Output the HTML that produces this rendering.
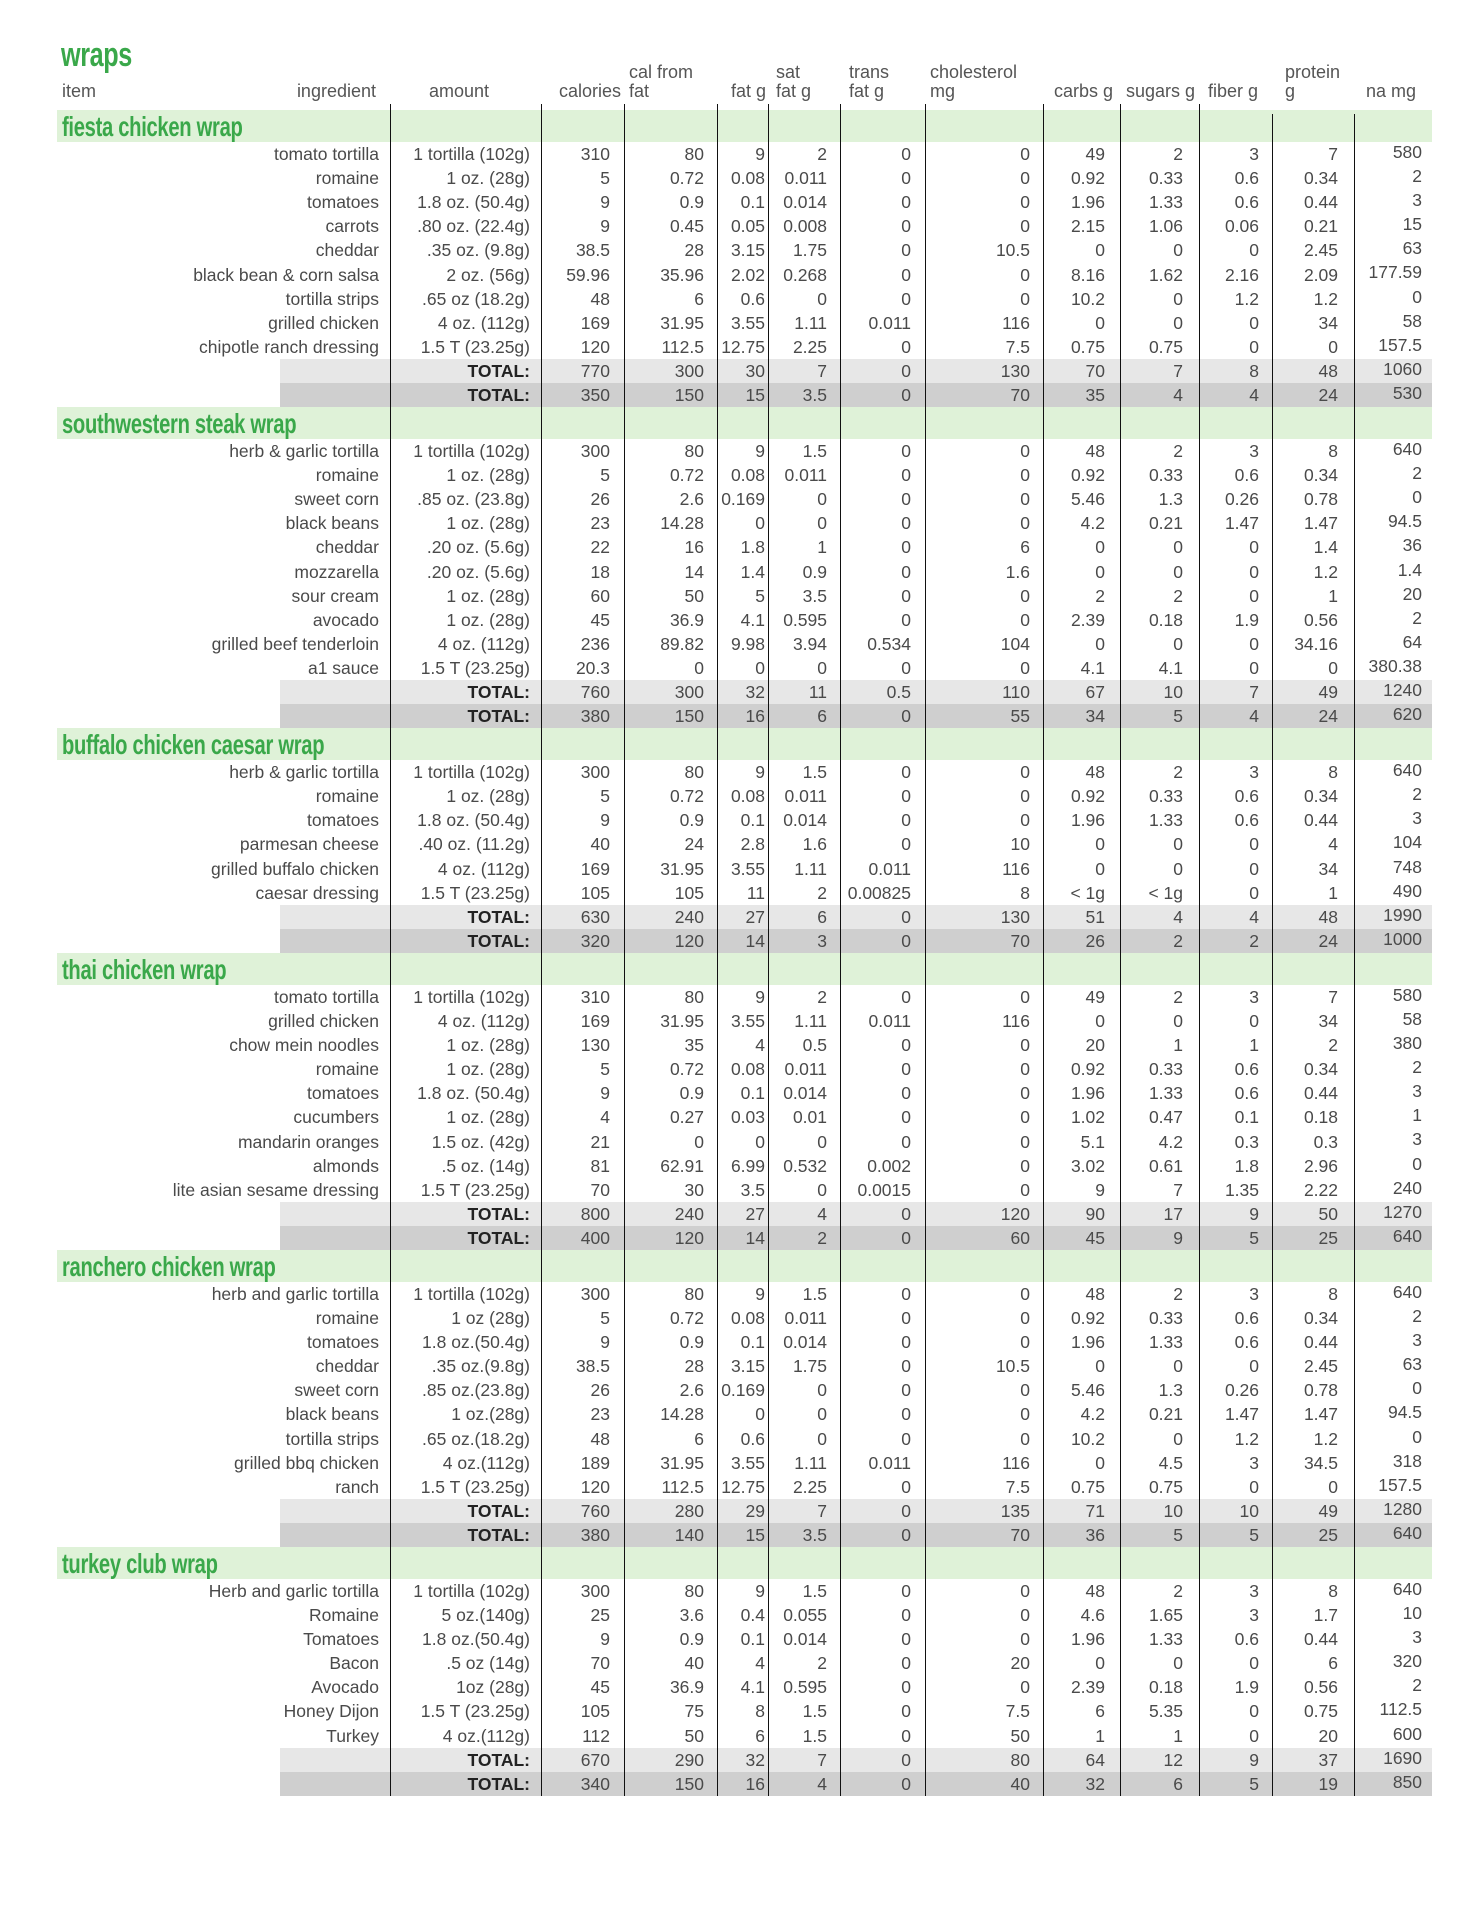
<!DOCTYPE html>
<html><head><meta charset="utf-8"><style>
body{margin:0;width:1484px;height:1920px;background:#fff;position:relative;overflow:hidden;font-family:"Liberation Sans",sans-serif;}
.h{position:absolute;font-size:18px;color:#555;line-height:19px;white-space:nowrap}
.title{position:absolute;left:61px;top:36px;font-weight:bold;font-size:34px;color:#3aa84a;letter-spacing:-0.5px;transform:scaleX(0.74);transform-origin:0 0;white-space:nowrap}
table{position:absolute;left:57px;top:110px;width:1375px;table-layout:fixed;border-collapse:collapse;border-spacing:0}
td{padding:0;height:24.1px;font-size:17.5px;color:#4a4a4a;text-align:right;white-space:nowrap;line-height:24px;overflow:visible}
tr.band td{height:32px;background:#dff2d8;text-align:left;font-weight:bold;font-size:28px;color:#3aa84a;padding-left:5px;letter-spacing:-0.4px;line-height:30px;vertical-align:bottom}
tr.band td span{display:inline-block;transform:scaleX(0.72);transform-origin:0 100%}
tr.t1 td{background:#e7e7e7}
tr.t2 td{background:#cfcfcf}
tr.t1 td:first-child,tr.t2 td:first-child{background:linear-gradient(90deg,#fff 223px,transparent 223px)}
tr.t1 td:first-child{background-color:#e7e7e7}
tr.t2 td:first-child{background-color:#cfcfcf}
tr.t1 td:nth-child(2),tr.t2 td:nth-child(2){font-weight:bold;color:#222}
td:nth-child(1){padding-right:11px}
td:nth-child(2){padding-right:11px}
td:nth-child(3){padding-right:14px}
td:nth-child(4){padding-right:13px}
td:nth-child(5){padding-right:3px}
td:nth-child(6){padding-right:13px}
td:nth-child(7){padding-right:14px}
td:nth-child(8){padding-right:13px}
td:nth-child(9){padding-right:15px}
td:nth-child(10){padding-right:16px}
td:nth-child(11){padding-right:13px}
td:nth-child(12){padding-right:16px}
td:nth-child(13){padding-right:10px;vertical-align:top;line-height:20px}
.v{position:absolute;width:1px;background:#111;top:104px;height:1692px;z-index:2}
</style></head><body>
<div class="title">wraps</div>
<div class="h" style="left:62px;top:82px">item</div>
<div class="h" style="left:280px;width:96px;text-align:right;top:82px">ingredient</div>
<div class="h" style="left:429px;top:82px">amount</div>
<div class="h" style="left:549px;width:72px;text-align:right;top:82px">calories</div>
<div class="h" style="left:629px;top:63px">cal from<br>fat</div>
<div class="h" style="left:724px;width:42px;text-align:right;top:82px">fat g</div>
<div class="h" style="left:776px;top:63px">sat<br>fat g</div>
<div class="h" style="left:849px;top:63px">trans<br>fat g</div>
<div class="h" style="left:930px;top:63px">cholesterol<br>mg</div>
<div class="h" style="left:1054px;top:82px">carbs g</div>
<div class="h" style="left:1126px;top:82px">sugars g</div>
<div class="h" style="left:1208px;top:82px">fiber g</div>
<div class="h" style="left:1285px;top:63px">protein<br>g</div>
<div class="h" style="left:1366px;top:82px">na mg</div>

<div class="v" style="left:390px"></div><div class="v" style="left:541px"></div><div class="v" style="left:624px"></div><div class="v" style="left:717px"></div><div class="v" style="left:768px"></div><div class="v" style="left:840px"></div><div class="v" style="left:925px"></div><div class="v" style="left:1043px"></div><div class="v" style="left:1120px"></div><div class="v" style="left:1199px"></div><div class="v" style="left:1272px;top:114px;height:1682px"></div><div class="v" style="left:1354px;top:114px;height:1682px"></div>

<table>
<colgroup><col style="width:333px"><col style="width:151px"><col style="width:83px"><col style="width:93px"><col style="width:51px"><col style="width:72px"><col style="width:85px"><col style="width:118px"><col style="width:77px"><col style="width:79px"><col style="width:73px"><col style="width:82px"><col style="width:78px"></colgroup>
<tr class="band"><td colspan="13"><span>fiesta chicken wrap</span></td></tr>
<tr><td>tomato tortilla<td>1 tortilla (102g)<td>310<td>80<td>9<td>2<td>0<td>0<td>49<td>2<td>3<td>7<td>580</tr>
<tr><td>romaine<td>1 oz. (28g)<td>5<td>0.72<td>0.08<td>0.011<td>0<td>0<td>0.92<td>0.33<td>0.6<td>0.34<td>2</tr>
<tr><td>tomatoes<td>1.8 oz. (50.4g)<td>9<td>0.9<td>0.1<td>0.014<td>0<td>0<td>1.96<td>1.33<td>0.6<td>0.44<td>3</tr>
<tr><td>carrots<td>.80 oz. (22.4g)<td>9<td>0.45<td>0.05<td>0.008<td>0<td>0<td>2.15<td>1.06<td>0.06<td>0.21<td>15</tr>
<tr><td>cheddar<td>.35 oz. (9.8g)<td>38.5<td>28<td>3.15<td>1.75<td>0<td>10.5<td>0<td>0<td>0<td>2.45<td>63</tr>
<tr><td>black bean &amp; corn salsa<td>2 oz. (56g)<td>59.96<td>35.96<td>2.02<td>0.268<td>0<td>0<td>8.16<td>1.62<td>2.16<td>2.09<td>177.59</tr>
<tr><td>tortilla strips<td>.65 oz (18.2g)<td>48<td>6<td>0.6<td>0<td>0<td>0<td>10.2<td>0<td>1.2<td>1.2<td>0</tr>
<tr><td>grilled chicken<td>4 oz. (112g)<td>169<td>31.95<td>3.55<td>1.11<td>0.011<td>116<td>0<td>0<td>0<td>34<td>58</tr>
<tr><td>chipotle ranch dressing<td>1.5 T (23.25g)<td>120<td>112.5<td>12.75<td>2.25<td>0<td>7.5<td>0.75<td>0.75<td>0<td>0<td>157.5</tr>
<tr class="t1"><td><td>TOTAL:<td>770<td>300<td>30<td>7<td>0<td>130<td>70<td>7<td>8<td>48<td>1060</tr>
<tr class="t2"><td><td>TOTAL:<td>350<td>150<td>15<td>3.5<td>0<td>70<td>35<td>4<td>4<td>24<td>530</tr>

<tr class="band"><td colspan="13"><span>southwestern steak wrap</span></td></tr>
<tr><td>herb &amp; garlic tortilla<td>1 tortilla (102g)<td>300<td>80<td>9<td>1.5<td>0<td>0<td>48<td>2<td>3<td>8<td>640</tr>
<tr><td>romaine<td>1 oz. (28g)<td>5<td>0.72<td>0.08<td>0.011<td>0<td>0<td>0.92<td>0.33<td>0.6<td>0.34<td>2</tr>
<tr><td>sweet corn<td>.85 oz. (23.8g)<td>26<td>2.6<td>0.169<td>0<td>0<td>0<td>5.46<td>1.3<td>0.26<td>0.78<td>0</tr>
<tr><td>black beans<td>1 oz. (28g)<td>23<td>14.28<td>0<td>0<td>0<td>0<td>4.2<td>0.21<td>1.47<td>1.47<td>94.5</tr>
<tr><td>cheddar<td>.20 oz. (5.6g)<td>22<td>16<td>1.8<td>1<td>0<td>6<td>0<td>0<td>0<td>1.4<td>36</tr>
<tr><td>mozzarella<td>.20 oz. (5.6g)<td>18<td>14<td>1.4<td>0.9<td>0<td>1.6<td>0<td>0<td>0<td>1.2<td>1.4</tr>
<tr><td>sour cream<td>1 oz. (28g)<td>60<td>50<td>5<td>3.5<td>0<td>0<td>2<td>2<td>0<td>1<td>20</tr>
<tr><td>avocado<td>1 oz. (28g)<td>45<td>36.9<td>4.1<td>0.595<td>0<td>0<td>2.39<td>0.18<td>1.9<td>0.56<td>2</tr>
<tr><td>grilled beef tenderloin<td>4 oz. (112g)<td>236<td>89.82<td>9.98<td>3.94<td>0.534<td>104<td>0<td>0<td>0<td>34.16<td>64</tr>
<tr><td>a1 sauce<td>1.5 T (23.25g)<td>20.3<td>0<td>0<td>0<td>0<td>0<td>4.1<td>4.1<td>0<td>0<td>380.38</tr>
<tr class="t1"><td><td>TOTAL:<td>760<td>300<td>32<td>11<td>0.5<td>110<td>67<td>10<td>7<td>49<td>1240</tr>
<tr class="t2"><td><td>TOTAL:<td>380<td>150<td>16<td>6<td>0<td>55<td>34<td>5<td>4<td>24<td>620</tr>

<tr class="band"><td colspan="13"><span>buffalo chicken caesar wrap</span></td></tr>
<tr><td>herb &amp; garlic tortilla<td>1 tortilla (102g)<td>300<td>80<td>9<td>1.5<td>0<td>0<td>48<td>2<td>3<td>8<td>640</tr>
<tr><td>romaine<td>1 oz. (28g)<td>5<td>0.72<td>0.08<td>0.011<td>0<td>0<td>0.92<td>0.33<td>0.6<td>0.34<td>2</tr>
<tr><td>tomatoes<td>1.8 oz. (50.4g)<td>9<td>0.9<td>0.1<td>0.014<td>0<td>0<td>1.96<td>1.33<td>0.6<td>0.44<td>3</tr>
<tr><td>parmesan cheese<td>.40 oz. (11.2g)<td>40<td>24<td>2.8<td>1.6<td>0<td>10<td>0<td>0<td>0<td>4<td>104</tr>
<tr><td>grilled buffalo chicken<td>4 oz. (112g)<td>169<td>31.95<td>3.55<td>1.11<td>0.011<td>116<td>0<td>0<td>0<td>34<td>748</tr>
<tr><td>caesar dressing<td>1.5 T (23.25g)<td>105<td>105<td>11<td>2<td>0.00825<td>8<td>&lt; 1g<td>&lt; 1g<td>0<td>1<td>490</tr>
<tr class="t1"><td><td>TOTAL:<td>630<td>240<td>27<td>6<td>0<td>130<td>51<td>4<td>4<td>48<td>1990</tr>
<tr class="t2"><td><td>TOTAL:<td>320<td>120<td>14<td>3<td>0<td>70<td>26<td>2<td>2<td>24<td>1000</tr>

<tr class="band"><td colspan="13"><span>thai chicken wrap</span></td></tr>
<tr><td>tomato tortilla<td>1 tortilla (102g)<td>310<td>80<td>9<td>2<td>0<td>0<td>49<td>2<td>3<td>7<td>580</tr>
<tr><td>grilled chicken<td>4 oz. (112g)<td>169<td>31.95<td>3.55<td>1.11<td>0.011<td>116<td>0<td>0<td>0<td>34<td>58</tr>
<tr><td>chow mein noodles<td>1 oz. (28g)<td>130<td>35<td>4<td>0.5<td>0<td>0<td>20<td>1<td>1<td>2<td>380</tr>
<tr><td>romaine<td>1 oz. (28g)<td>5<td>0.72<td>0.08<td>0.011<td>0<td>0<td>0.92<td>0.33<td>0.6<td>0.34<td>2</tr>
<tr><td>tomatoes<td>1.8 oz. (50.4g)<td>9<td>0.9<td>0.1<td>0.014<td>0<td>0<td>1.96<td>1.33<td>0.6<td>0.44<td>3</tr>
<tr><td>cucumbers<td>1 oz. (28g)<td>4<td>0.27<td>0.03<td>0.01<td>0<td>0<td>1.02<td>0.47<td>0.1<td>0.18<td>1</tr>
<tr><td>mandarin oranges<td>1.5 oz. (42g)<td>21<td>0<td>0<td>0<td>0<td>0<td>5.1<td>4.2<td>0.3<td>0.3<td>3</tr>
<tr><td>almonds<td>.5 oz. (14g)<td>81<td>62.91<td>6.99<td>0.532<td>0.002<td>0<td>3.02<td>0.61<td>1.8<td>2.96<td>0</tr>
<tr><td>lite asian sesame dressing<td>1.5 T (23.25g)<td>70<td>30<td>3.5<td>0<td>0.0015<td>0<td>9<td>7<td>1.35<td>2.22<td>240</tr>
<tr class="t1"><td><td>TOTAL:<td>800<td>240<td>27<td>4<td>0<td>120<td>90<td>17<td>9<td>50<td>1270</tr>
<tr class="t2"><td><td>TOTAL:<td>400<td>120<td>14<td>2<td>0<td>60<td>45<td>9<td>5<td>25<td>640</tr>

<tr class="band"><td colspan="13"><span>ranchero chicken wrap</span></td></tr>
<tr><td>herb and garlic tortilla<td>1 tortilla (102g)<td>300<td>80<td>9<td>1.5<td>0<td>0<td>48<td>2<td>3<td>8<td>640</tr>
<tr><td>romaine<td>1 oz (28g)<td>5<td>0.72<td>0.08<td>0.011<td>0<td>0<td>0.92<td>0.33<td>0.6<td>0.34<td>2</tr>
<tr><td>tomatoes<td>1.8 oz.(50.4g)<td>9<td>0.9<td>0.1<td>0.014<td>0<td>0<td>1.96<td>1.33<td>0.6<td>0.44<td>3</tr>
<tr><td>cheddar<td>.35 oz.(9.8g)<td>38.5<td>28<td>3.15<td>1.75<td>0<td>10.5<td>0<td>0<td>0<td>2.45<td>63</tr>
<tr><td>sweet corn<td>.85 oz.(23.8g)<td>26<td>2.6<td>0.169<td>0<td>0<td>0<td>5.46<td>1.3<td>0.26<td>0.78<td>0</tr>
<tr><td>black beans<td>1 oz.(28g)<td>23<td>14.28<td>0<td>0<td>0<td>0<td>4.2<td>0.21<td>1.47<td>1.47<td>94.5</tr>
<tr><td>tortilla strips<td>.65 oz.(18.2g)<td>48<td>6<td>0.6<td>0<td>0<td>0<td>10.2<td>0<td>1.2<td>1.2<td>0</tr>
<tr><td>grilled bbq chicken<td>4 oz.(112g)<td>189<td>31.95<td>3.55<td>1.11<td>0.011<td>116<td>0<td>4.5<td>3<td>34.5<td>318</tr>
<tr><td>ranch<td>1.5 T (23.25g)<td>120<td>112.5<td>12.75<td>2.25<td>0<td>7.5<td>0.75<td>0.75<td>0<td>0<td>157.5</tr>
<tr class="t1"><td><td>TOTAL:<td>760<td>280<td>29<td>7<td>0<td>135<td>71<td>10<td>10<td>49<td>1280</tr>
<tr class="t2"><td><td>TOTAL:<td>380<td>140<td>15<td>3.5<td>0<td>70<td>36<td>5<td>5<td>25<td>640</tr>

<tr class="band"><td colspan="13"><span>turkey club wrap</span></td></tr>
<tr><td>Herb and garlic tortilla<td>1 tortilla (102g)<td>300<td>80<td>9<td>1.5<td>0<td>0<td>48<td>2<td>3<td>8<td>640</tr>
<tr><td>Romaine<td>5 oz.(140g)<td>25<td>3.6<td>0.4<td>0.055<td>0<td>0<td>4.6<td>1.65<td>3<td>1.7<td>10</tr>
<tr><td>Tomatoes<td>1.8 oz.(50.4g)<td>9<td>0.9<td>0.1<td>0.014<td>0<td>0<td>1.96<td>1.33<td>0.6<td>0.44<td>3</tr>
<tr><td>Bacon<td>.5 oz (14g)<td>70<td>40<td>4<td>2<td>0<td>20<td>0<td>0<td>0<td>6<td>320</tr>
<tr><td>Avocado<td>1oz (28g)<td>45<td>36.9<td>4.1<td>0.595<td>0<td>0<td>2.39<td>0.18<td>1.9<td>0.56<td>2</tr>
<tr><td>Honey Dijon<td>1.5 T (23.25g)<td>105<td>75<td>8<td>1.5<td>0<td>7.5<td>6<td>5.35<td>0<td>0.75<td>112.5</tr>
<tr><td>Turkey<td>4 oz.(112g)<td>112<td>50<td>6<td>1.5<td>0<td>50<td>1<td>1<td>0<td>20<td>600</tr>
<tr class="t1"><td><td>TOTAL:<td>670<td>290<td>32<td>7<td>0<td>80<td>64<td>12<td>9<td>37<td>1690</tr>
<tr class="t2"><td><td>TOTAL:<td>340<td>150<td>16<td>4<td>0<td>40<td>32<td>6<td>5<td>19<td>850</tr>
</table>
</body></html>
